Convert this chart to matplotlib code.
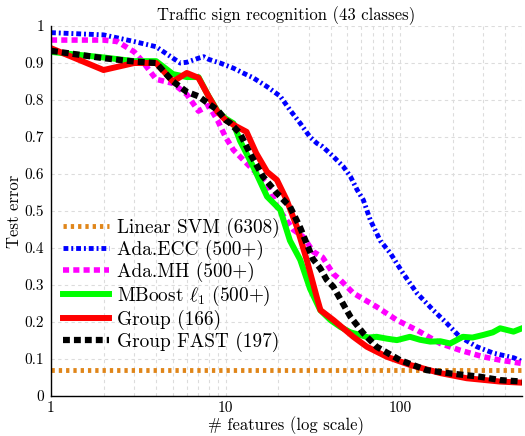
import matplotlib
matplotlib.use('Agg')
import matplotlib.pyplot as plt
from matplotlib.ticker import NullFormatter, LogLocator

plt.rcParams['font.family'] = 'cmr10'
plt.rcParams['mathtext.fontset'] = 'cm'
plt.rcParams['axes.formatter.use_mathtext'] = True

# ---------------- data ----------------
svm_x = [1, 500]
svm_y = [0.07, 0.07]

ecc_x = [1, 2, 3, 4, 5, 5.5, 6, 7, 7.5, 8, 9.3, 11.1, 12.6, 14.4, 17.3, 20.6, 23.4, 26.8,
         30.5, 33.4, 36, 41.5, 47.3, 52, 56.8, 61.6, 67.5, 77, 88, 104, 125, 155, 185,
         220, 276, 342, 450, 500]
ecc_y = [0.982, 0.976, 0.958, 0.944, 0.913, 0.9, 0.902, 0.913, 0.917, 0.91, 0.9, 0.886,
         0.873, 0.86, 0.836, 0.81, 0.773, 0.737, 0.7, 0.683, 0.674, 0.647, 0.62, 0.593,
         0.557, 0.53, 0.476, 0.42, 0.386, 0.332, 0.278, 0.232, 0.197, 0.16, 0.133,
         0.116, 0.103, 0.093]

mh_x = [1, 2, 2.4, 3, 3.3, 4, 5, 6, 7, 8, 9, 10, 11.1, 13.8, 17.3, 19.7, 24.5, 27.9,
        31.8, 36, 41.5, 45.4, 54, 73.5, 96, 125, 170, 220, 300, 375, 500]
mh_y = [0.962, 0.962, 0.958, 0.93, 0.908, 0.856, 0.845, 0.815, 0.77, 0.785, 0.745,
        0.7, 0.665, 0.62, 0.575, 0.512, 0.449, 0.43, 0.39, 0.375, 0.33, 0.314, 0.278,
        0.241, 0.205, 0.178, 0.142, 0.124, 0.106, 0.097, 0.088]

mb_x = [1, 2, 3, 4, 5, 6, 7, 8, 9, 10, 11.1, 12.1, 14.4, 17.3, 20.6, 23.4, 26.8, 30.5,
        34.9, 40, 45.4, 52, 59, 66, 73.5, 84, 96, 114, 130, 149, 170, 194, 229, 260,
        300, 340, 375, 447, 500]
mb_y = [0.93, 0.915, 0.905, 0.905, 0.87, 0.862, 0.862, 0.81, 0.77, 0.75, 0.737, 0.69,
        0.62, 0.539, 0.503, 0.42, 0.368, 0.29, 0.232, 0.205, 0.187, 0.172, 0.165,
        0.158, 0.16, 0.155, 0.151, 0.16, 0.152, 0.147, 0.148, 0.142, 0.16, 0.158,
        0.165, 0.172, 0.183, 0.174, 0.183]

grp_x = [1, 2, 3, 4, 5, 6, 7, 8, 9, 10, 11.6, 13.2, 15, 17.3, 19.7, 22.4, 25.6, 29.2,
         33.3, 35, 41.6, 54, 64.6, 84, 114, 170, 241, 375, 500]
grp_y = [0.94, 0.881, 0.9, 0.9, 0.85, 0.873, 0.86, 0.81, 0.768, 0.746, 0.728, 0.714,
         0.656, 0.606, 0.584, 0.53, 0.458, 0.368, 0.268, 0.232, 0.205, 0.16, 0.133,
         0.106, 0.084, 0.062, 0.048, 0.039, 0.036]

fast_x = [1, 2, 3, 4, 5, 6, 7, 8, 9, 10, 10.6, 12.1, 13.8, 16.4, 19.7, 23.4, 26.8,
          31.7, 34.9, 38, 41.5, 43.5, 52, 61.5, 73.5, 100, 142, 194, 288, 375, 500]
fast_y = [0.933, 0.913, 0.904, 0.9, 0.85, 0.822, 0.81, 0.79, 0.773, 0.746, 0.738,
          0.71, 0.656, 0.593, 0.548, 0.512, 0.455, 0.37, 0.345, 0.314, 0.295, 0.278,
          0.214, 0.17, 0.133, 0.097, 0.07, 0.061, 0.052, 0.043, 0.039]

labels = ['Linear SVM (6308)', 'Ada.ECC (500+)', 'Ada.MH (500+)',
          r'MBoost $\ell_1$ (500+)', 'Group (166)', 'Group FAST (197)']

# ---------------- plot ----------------
fig = plt.figure(figsize=(5.25, 4.36), dpi=100)
ax = fig.add_axes([51 / 525, 1 - 396 / 436, 471 / 525, 370 / 436])

ax.plot(svm_x, svm_y, color='#e0861a', lw=3.5, ls=(0, (0.68, 0.82)),
        dash_capstyle='butt', label=labels[0])
ax.plot(ecc_x, ecc_y, color='#0000ff', lw=3.5, ls=(0, (1.0, 0.6, 0.4, 0.6)),
        dash_capstyle='butt', label=labels[1])
ax.plot(mh_x, mh_y, color='#ff00ff', lw=4, ls=(0, (1.1, 0.75)),
        dash_capstyle='butt', label=labels[2])
ax.plot(mb_x, mb_y, color='#00ff00', lw=4.3, solid_joinstyle='round', label=labels[3])
ax.plot(grp_x, grp_y, color='#ff0000', lw=4.3, solid_joinstyle='round', label=labels[4])
ax.plot(fast_x, fast_y, color='black', lw=4.5, ls=(0, (1.1, 0.65)),
        dash_capstyle='butt', label=labels[5])

ax.set_xscale('log')
ax.set_xlim(1, 500)
ax.set_ylim(0, 1)
ax.set_xticks([1, 10, 100])
ax.set_xticklabels(['1', '10', '100'])
ax.xaxis.set_minor_locator(LogLocator(base=10, subs=range(2, 10)))
ax.xaxis.set_minor_formatter(NullFormatter())
yt = [i / 10 for i in range(11)]
ax.set_yticks(yt)
ax.set_yticklabels(['0'] + ['%.1f' % v for v in yt[1:-1]] + ['1'])
ax.tick_params(which='both', length=0, labelsize=11)
ax.tick_params(axis='y', pad=5)
ax.tick_params(axis='x', pad=4)

ax.grid(True, which='both', axis='x', color='#dcdcdc', ls=(0, (3, 3)), lw=0.8)
ax.grid(True, which='major', axis='y', color='#dcdcdc', ls=(0, (3, 3)), lw=0.8)
ax.set_axisbelow(True)
for s in ['top', 'right']:
    ax.spines[s].set_visible(False)
for s in ['left', 'bottom']:
    ax.spines[s].set_linewidth(1.0)

ax.set_title('Traffic sign recognition (43 classes)', fontsize=12, pad=4)
ax.set_xlabel('# features (log scale)', fontsize=12, labelpad=1)
ax.set_ylabel('Test error', fontsize=12, labelpad=2)

ax.legend(loc='center left', bbox_to_anchor=(0.0, 0.30), frameon=False,
          fontsize=13.9, handlelength=2.4, handletextpad=0.4, labelspacing=0.1,
          borderaxespad=0.2)

fig.savefig('out.png', dpi=100)
